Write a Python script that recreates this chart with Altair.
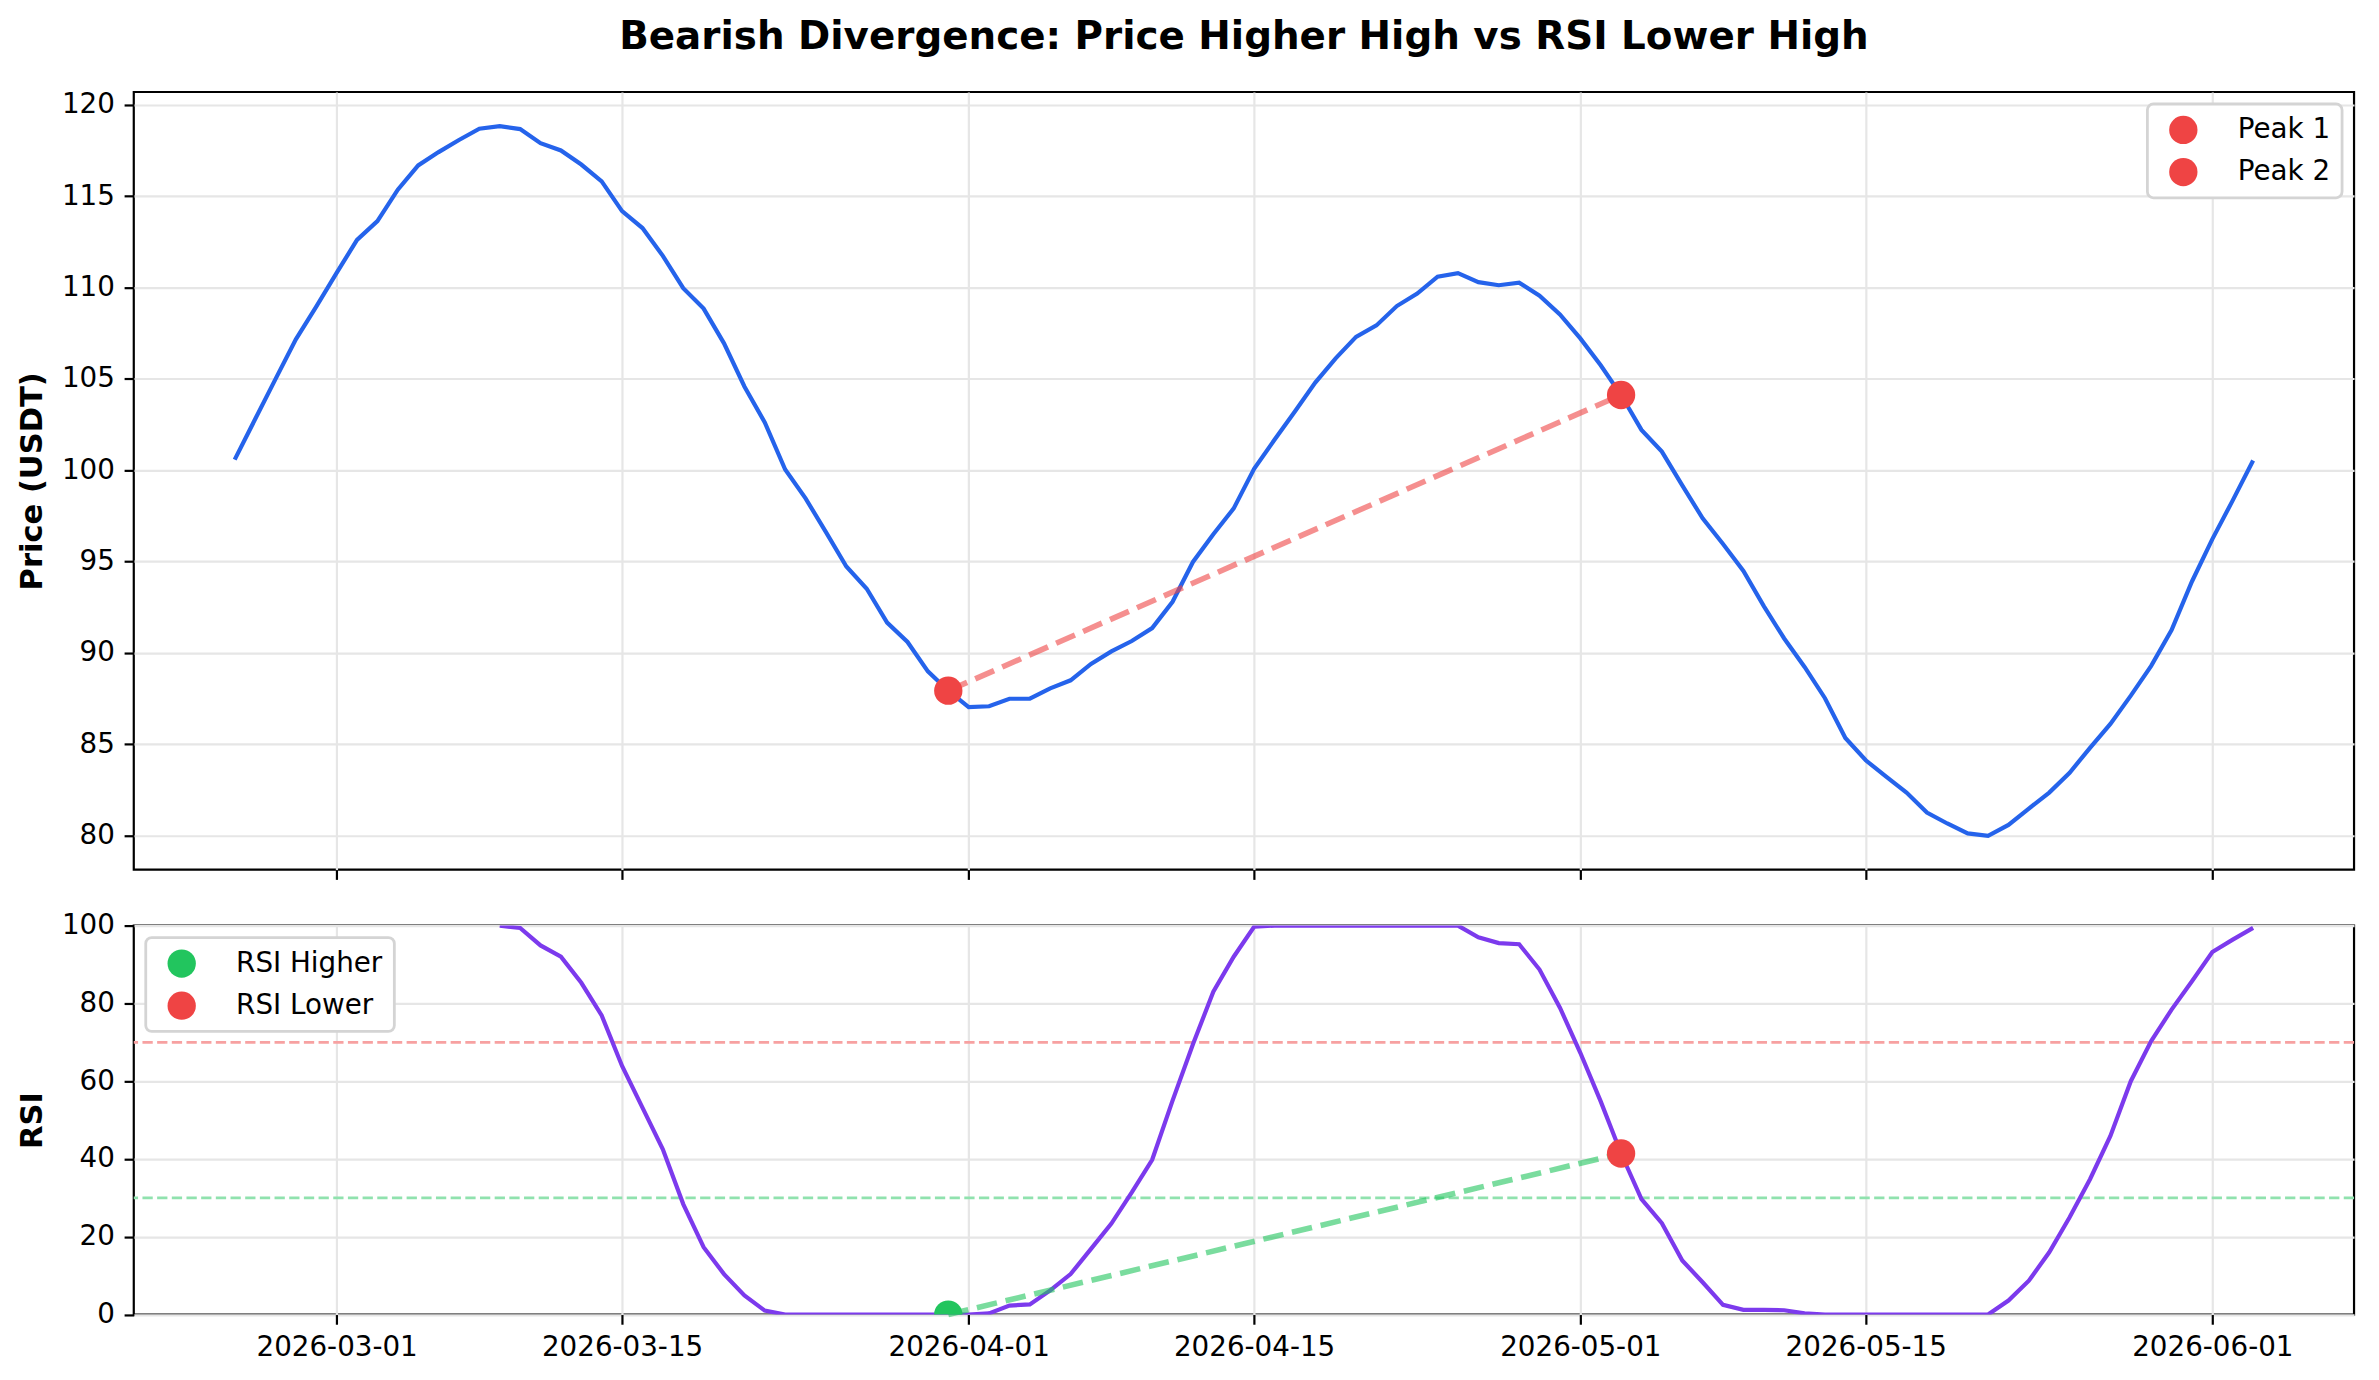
import altair as alt
import pandas as pd

FONT = "DejaVu Sans"

# Daily closes, 2026-02-24 .. 2026-06-03
dates = pd.date_range("2026-02-24", periods=100, freq="D").strftime("%Y-%m-%d").tolist()

price = [
    100.57, 102.78, 104.98, 107.16, 108.95, 110.80, 112.60, 113.63, 115.35, 116.68,
    117.41, 118.07, 118.69, 118.83, 118.67, 117.90, 117.50, 116.73, 115.81, 114.18,
    113.25, 111.73, 109.96, 108.84, 106.94, 104.58, 102.61, 100.03, 98.45, 96.60,
    94.72, 93.50, 91.65, 90.59, 88.98, 87.92, 87.02, 87.07, 87.48, 87.48,
    88.05, 88.49, 89.39, 90.07, 90.64, 91.35, 92.79, 94.97, 96.49, 97.90,
    100.07, 101.66, 103.21, 104.79, 106.12, 107.29, 107.92, 108.98, 109.66, 110.59,
    110.78, 110.29, 110.12, 110.26, 109.55, 108.52, 107.21, 105.74, 104.11, 102.20,
    101.01, 99.16, 97.36, 95.95, 94.48, 92.55, 90.78, 89.22, 87.51, 85.33,
    84.11, 83.21, 82.34, 81.25, 80.65, 80.11, 79.97, 80.57, 81.47, 82.34,
    83.43, 84.79, 86.10, 87.65, 89.28, 91.24, 93.90, 96.22, 98.34, 100.52,
]

# 14-day RSI (undefined for the first 13 days)
rsi = [None] * 13 + [
    100.0, 99.4, 94.9, 92.0, 85.3, 76.9, 63.9, 53.2, 42.5, 28.4,
    17.3, 10.4, 4.9, 1.0, 0.0, 0.0, 0.0, 0.0, 0.0, 0.0,
    0.0, 0.0, 0.0, 0.0, 0.3, 2.3, 2.6, 6.2, 10.4, 16.9,
    23.4, 31.4, 39.8, 55.0, 69.5, 83.0, 92.0, 99.7, 100.0, 100.0,
    100.0, 100.0, 100.0, 100.0, 100.0, 100.0, 100.0, 100.0, 97.0, 95.5,
    95.2, 88.7, 78.9, 67.3, 54.8, 41.4, 29.7, 23.5, 13.9, 8.3,
    2.5, 1.2, 1.2, 1.1, 0.3, 0.0, 0.0, 0.0, 0.0, 0.0,
    0.0, 0.0, 0.0, 0.0, 3.6, 8.7, 16.0, 25.0, 34.8, 45.9,
    60.0, 70.3, 78.4, 85.7, 93.2, 96.4, 99.4,
]

peak_idx = [35, 68]
price_labels = ["Peak 1", "Peak 2"]
rsi_labels = ["RSI Higher", "RSI Lower"]
rsi_colors = ["#22c55e", "#ef4444"]

tick_dates = ["2026-03-01", "2026-03-15", "2026-04-01", "2026-04-15",
              "2026-05-01", "2026-05-15", "2026-06-01"]
price_ticks = [80, 85, 90, 95, 100, 105, 110, 115, 120]
rsi_ticks = [0, 20, 40, 60, 80, 100]
overbought, oversold = 70, 30

BLUE, PURPLE, RED = "#2563eb", "#7c3aed", "#ef4444"


def dt(s, h=0, m=0):
    return alt.DateTime(year=int(s[:4]), month=int(s[5:7]), date=int(s[8:10]),
                        hours=h, minutes=m, utc=True)


x_domain = [dt("2026-02-19", 1, 12), dt("2026-06-07", 22, 48)]
tick_values = [dt(s) for s in tick_dates]

price_df = pd.DataFrame({"date": dates, "price": price})
rsi_df = pd.DataFrame({"date": dates, "rsi": rsi}).dropna()
peaks_df = pd.DataFrame({
    "date": [dates[i] for i in peak_idx],
    "price": [price[i] for i in peak_idx],
    "label": price_labels,
})
rsi_pts_df = pd.DataFrame({
    "date": [dates[i] for i in peak_idx],
    "rsi": [rsi[i] for i in peak_idx],
    "label": rsi_labels,
})

x_scale = alt.Scale(type="utc", domain=x_domain)
x_top = alt.X("date:T", scale=x_scale,
              axis=alt.Axis(values=tick_values, labels=False, title=None))
x_bot = alt.X("date:T", scale=x_scale,
              axis=alt.Axis(values=tick_values, title=None,
                            labelExpr="utcFormat(datum.value, '%Y-%m-%d')"))

y_price = alt.Y("price:Q", scale=alt.Scale(domain=[78.12, 120.7], nice=False, zero=False),
                axis=alt.Axis(values=price_ticks, title="Price (USDT)"))
y_rsi = alt.Y("rsi:Q", scale=alt.Scale(domain=[0, 100], nice=False),
              axis=alt.Axis(values=rsi_ticks, title="RSI"))

legend_common = dict(
    title=None, offset=12, padding=11.5, rowPadding=13.2,
    symbolSize=804, symbolType="circle", symbolStrokeWidth=0,
    symbolOffset=10, labelOffset=40,
    labelFont=FONT, labelFontSize=27.8, labelColor="black",
    strokeColor="#d4d4d4", fillColor="white", cornerRadius=6,
)

# --- price panel ---
price_line = alt.Chart(price_df).mark_line(color=BLUE, strokeWidth=4.2).encode(
    x=x_top, y=y_price)
price_link = alt.Chart(peaks_df).mark_line(
    color=RED, opacity=0.6, strokeWidth=5.6, strokeDash=[20.6, 8.9]
).encode(x=x_top, y=y_price)
price_dots = alt.Chart(peaks_df).mark_circle(size=804, opacity=1).encode(
    x=x_top, y=y_price,
    color=alt.Color("label:N",
                    scale=alt.Scale(domain=price_labels, range=[RED, RED]),
                    legend=alt.Legend(orient="top-right", **legend_common)),
)
top = alt.layer(price_line, price_link, price_dots).properties(width=2224, height=779)

# --- RSI panel ---
ob_rule = alt.Chart(pd.DataFrame({"rsi": [overbought]})).mark_rule(
    color="#f7a1a1", strokeWidth=2.8, strokeDash=[10.3, 4.4]).encode(y=y_rsi)
os_rule = alt.Chart(pd.DataFrame({"rsi": [oversold]})).mark_rule(
    color="#90e2ae", strokeWidth=2.8, strokeDash=[10.3, 4.4]).encode(y=y_rsi)
rsi_line = alt.Chart(rsi_df).mark_line(color=PURPLE, strokeWidth=4.2, clip=True).encode(
    x=x_bot, y=y_rsi)
rsi_link = alt.Chart(rsi_pts_df).mark_line(
    color="#22c55e", opacity=0.6, strokeWidth=5.6, strokeDash=[20.6, 8.9]
).encode(x=x_bot, y=y_rsi)
rsi_dots = alt.Chart(rsi_pts_df).mark_circle(size=804, opacity=1, clip=True).encode(
    x=x_bot, y=y_rsi,
    color=alt.Color("label:N",
                    scale=alt.Scale(domain=rsi_labels, range=rsi_colors),
                    legend=alt.Legend(orient="top-left", **legend_common)),
)
bottom = alt.layer(ob_rule, os_rule, rsi_line, rsi_link, rsi_dots).properties(
    width=2224, height=389.6)

chart = (
    alt.vconcat(top, bottom, spacing=56, bounds="flush")
    .resolve_scale(color="independent")
    .resolve_legend(color="independent")
    .properties(
        title=alt.TitleParams(
            "Bearish Divergence: Price Higher High vs RSI Lower High",
            anchor="middle", frame="group", offset=33,
        ),
        padding={"left": 16, "top": 16, "right": 22, "bottom": 10},
        background="white",
    )
    .configure_view(stroke="black", strokeWidth=2.2)
    .configure_legend(strokeWidth=2.8)
    .configure_axis(
        labelFont=FONT, labelFontSize=27.8, labelColor="black",
        tickColor="black", tickWidth=2.2, tickSize=9.7, labelPadding=9.7,
        domain=False, gridColor="#e6e6e6", gridWidth=2.2,
        titleFont=FONT, titleFontSize=30.6, titleFontWeight="bold",
        titleColor="black", titlePadding=14,
    )
    .configure_title(font=FONT, fontSize=38.9, fontWeight="bold", color="black")
)

chart.save("out.html", embed_options={"renderer": "svg", "actions": False})
